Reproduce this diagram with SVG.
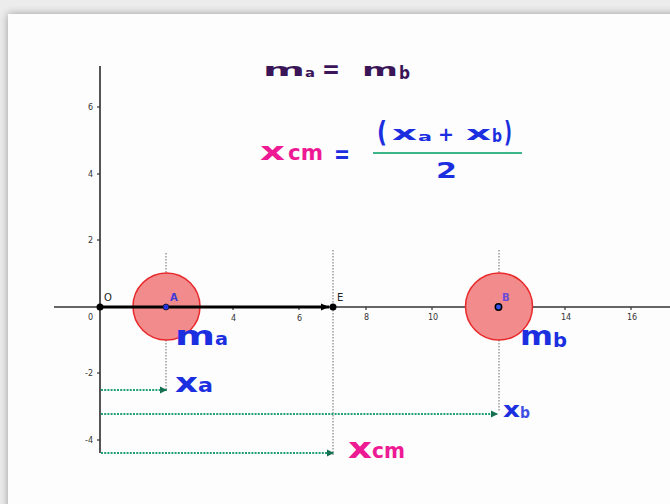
<svg xmlns="http://www.w3.org/2000/svg" width="670" height="504" viewBox="0 0 670 504">
  <defs>
    <filter id="shadow" x="-5%" y="-5%" width="110%" height="110%">
      <feGaussianBlur in="SourceAlpha" stdDeviation="4"/>
      <feOffset dx="0" dy="0" result="b"/>
      <feComponentTransfer><feFuncA type="linear" slope="0.35"/></feComponentTransfer>
      <feMerge><feMergeNode/><feMergeNode in="SourceGraphic"/></feMerge>
    </filter>
    <marker id="garrow" markerUnits="userSpaceOnUse" markerWidth="8" markerHeight="8" refX="7" refY="4" orient="auto">
      <path d="M0,0.5 L7,4 L0,7.5 z" fill="#17704f"/>
    </marker>
    <marker id="karrow" markerUnits="userSpaceOnUse" markerWidth="9" markerHeight="9" refX="8" refY="4.5" orient="auto">
      <path d="M0,1 L8,4.5 L0,8 z" fill="#000"/>
    </marker>
    <style>
      .hand { font-family: "DejaVu Sans", sans-serif; font-weight: bold; }
      .purple { fill: #3a1658; }
      .blue { fill: #1b2fe0; }
      .pink { fill: #ee1a94; }
      .tick { font-family: "DejaVu Sans", sans-serif; font-size: 8px; fill: #333; }
      .ptlabel { font-family: "DejaVu Sans", sans-serif; font-size: 10px; }
      .guide { stroke: #9a9a9a; stroke-width: 1.5; stroke-dasharray: 1.5 1.5; fill: none; }
      .garr { stroke: #22a077; stroke-width: 2; stroke-dasharray: 2 1.2; fill: none; marker-end: url(#garrow); }
      .mass { fill: #f28b8b; stroke: #e8282a; stroke-width: 1.5; }
    </style>
  </defs>

  <!-- background frame -->
  <rect x="0" y="0" width="670" height="504" fill="#ececec"/>
  <rect x="8" y="14" width="680" height="510" fill="#fdfdfd" filter="url(#shadow)"/>

  <!-- formulas -->
  <g id="formula-masses">
    <text class="hand purple" x="263" y="76" font-size="18" textLength="42" lengthAdjust="spacingAndGlyphs">m</text>
    <text class="hand purple" x="305" y="77" font-size="13" textLength="10" lengthAdjust="spacingAndGlyphs">a</text>
    <text class="hand purple" x="322" y="78" font-size="24" textLength="18" lengthAdjust="spacingAndGlyphs">=</text>
    <text class="hand purple" x="362" y="76" font-size="18" textLength="36" lengthAdjust="spacingAndGlyphs">m</text>
    <text class="hand purple" x="399" y="79" font-size="17" textLength="11" lengthAdjust="spacingAndGlyphs">b</text>
  </g>

  <g id="formula-xcm">
    <text class="hand pink" x="260" y="160" font-size="24" textLength="25" lengthAdjust="spacingAndGlyphs">x</text>
    <text class="hand pink" x="288" y="160" font-size="22" textLength="35" lengthAdjust="spacingAndGlyphs">cm</text>
    <text class="hand blue" x="334" y="163" font-size="24" textLength="16" lengthAdjust="spacingAndGlyphs">=</text>
    <text class="hand blue" x="377" y="142" font-size="28" textLength="10" lengthAdjust="spacingAndGlyphs">(</text>
    <text class="hand blue" x="392" y="140" font-size="20" textLength="25" lengthAdjust="spacingAndGlyphs">x</text>
    <text class="hand blue" x="418" y="141" font-size="13" textLength="14" lengthAdjust="spacingAndGlyphs">a</text>
    <text class="hand blue" x="438" y="141" font-size="19" textLength="16" lengthAdjust="spacingAndGlyphs">+</text>
    <text class="hand blue" x="466" y="140" font-size="20" textLength="25" lengthAdjust="spacingAndGlyphs">x</text>
    <text class="hand blue" x="492" y="142" font-size="17" textLength="10" lengthAdjust="spacingAndGlyphs">b</text>
    <text class="hand blue" x="504" y="142" font-size="28" textLength="8" lengthAdjust="spacingAndGlyphs">)</text>
    <line x1="373" y1="153" x2="522" y2="153" stroke="#3bb688" stroke-width="2"/>
    <text class="hand blue" x="436" y="178" font-size="22" textLength="21" lengthAdjust="spacingAndGlyphs">2</text>
  </g>

  <!-- axes -->
  <g id="axes">
    <line x1="100" y1="66" x2="100" y2="453" stroke="#555" stroke-width="2"/>
    <line x1="54" y1="307" x2="670" y2="307" stroke="#333" stroke-width="1.5"/>
    <g stroke="#333" stroke-width="1.2">
      <line x1="97" y1="107" x2="100" y2="107"/>
      <line x1="97" y1="174" x2="100" y2="174"/>
      <line x1="97" y1="240" x2="100" y2="240"/>
      <line x1="97" y1="373" x2="100" y2="373"/>
      <line x1="97" y1="440" x2="100" y2="440"/>
      <line x1="233" y1="307" x2="233" y2="310"/>
      <line x1="299" y1="307" x2="299" y2="310"/>
      <line x1="366" y1="307" x2="366" y2="310"/>
      <line x1="432" y1="307" x2="432" y2="310"/>
      <line x1="565" y1="307" x2="565" y2="310"/>
      <line x1="631" y1="307" x2="631" y2="310"/>
    </g>
    <text class="tick" x="88" y="110">6</text>
    <text class="tick" x="88" y="177">4</text>
    <text class="tick" x="88" y="243">2</text>
    <text class="tick" x="85" y="376">-2</text>
    <text class="tick" x="85" y="443">-4</text>
    <text class="tick" x="88" y="320">0</text>
    <text class="tick" x="164" y="321" fill="#777">2</text>
    <text class="tick" x="231" y="321">4</text>
    <text class="tick" x="297" y="321">6</text>
    <text class="tick" x="364" y="320">8</text>
    <text class="tick" x="428" y="320">10</text>
    <text class="tick" x="494" y="320" fill="#666">12</text>
    <text class="tick" x="561" y="320">14</text>
    <text class="tick" x="627" y="320">16</text>
  </g>

  <!-- guide lines -->
  <g id="guides">
    <line class="guide" x1="166" y1="253" x2="166" y2="389"/>
    <line class="guide" x1="333" y1="250" x2="333" y2="455"/>
    <line class="guide" x1="499" y1="250" x2="499" y2="412"/>
  </g>

  <!-- masses -->
  <g id="mass-a">
    <circle class="mass" cx="166.5" cy="306.5" r="33.5"/>
  </g>
  <g id="mass-b">
    <circle class="mass" cx="499" cy="306.5" r="33.5"/>
  </g>

  <!-- connectors -->
  <g id="connectors">
    <line x1="100" y1="307" x2="329" y2="307" stroke="#000" stroke-width="3" marker-end="url(#karrow)"/>
    <line class="garr" x1="101" y1="390" x2="167" y2="390"/>
    <line class="garr" x1="101" y1="414" x2="498" y2="414"/>
    <line class="garr" x1="101" y1="453" x2="334" y2="453"/>
  </g>

  <!-- points -->
  <g id="point-O">
    <circle cx="100" cy="307" r="3.5" fill="#000"/>
    <text class="ptlabel" x="104" y="301" fill="#222">O</text>
  </g>
  <g id="point-E">
    <circle cx="333" cy="307" r="3.5" fill="#000"/>
    <text class="ptlabel" x="337" y="301" fill="#222">E</text>
  </g>
  <g id="point-A">
    <circle cx="166" cy="307" r="3" fill="#2233dd" stroke="#112" stroke-width="0.8"/>
    <text class="ptlabel" x="170" y="301" fill="#3b3bd8" font-weight="bold">A</text>
  </g>
  <g id="point-B">
    <circle cx="498.5" cy="307" r="3.2" fill="#3355ee" stroke="#000" stroke-width="1.5"/>
    <text class="ptlabel" x="502" y="301" fill="#6a4ad8" font-weight="bold">B</text>
  </g>

  <!-- labels -->
  <g id="label-ma">
    <text class="hand blue" x="175" y="345" font-size="27" textLength="40" lengthAdjust="spacingAndGlyphs">m</text>
    <text class="hand blue" x="215" y="345" font-size="18" textLength="13" lengthAdjust="spacingAndGlyphs">a</text>
  </g>
  <g id="label-mb">
    <text class="hand blue" x="520" y="345" font-size="27" textLength="33" lengthAdjust="spacingAndGlyphs">m</text>
    <text class="hand blue" x="553" y="347" font-size="19" textLength="14" lengthAdjust="spacingAndGlyphs">b</text>
  </g>
  <g id="label-xa">
    <text class="hand blue" x="175" y="392" font-size="27" textLength="23" lengthAdjust="spacingAndGlyphs">x</text>
    <text class="hand blue" x="198" y="392" font-size="19" textLength="15" lengthAdjust="spacingAndGlyphs">a</text>
  </g>
  <g id="label-xb">
    <text class="hand blue" x="503" y="417" font-size="22" textLength="17" lengthAdjust="spacingAndGlyphs">x</text>
    <text class="hand blue" x="520" y="418" font-size="15" textLength="10" lengthAdjust="spacingAndGlyphs" fill-opacity="0.85">b</text>
  </g>
  <g id="label-xcm">
    <text class="hand pink" x="348" y="458" font-size="28" textLength="24" lengthAdjust="spacingAndGlyphs">x</text>
    <text class="hand pink" x="372" y="458" font-size="21" textLength="33" lengthAdjust="spacingAndGlyphs">cm</text>
  </g>
</svg>
